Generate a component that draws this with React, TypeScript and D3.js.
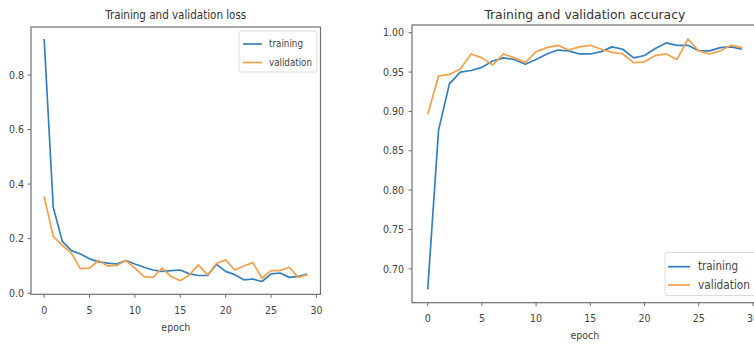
import React from "react";
import * as d3 from "d3";

const epochs = d3.range(0, 30);

const lossTraining = [
  0.932, 0.315, 0.19, 0.156, 0.144, 0.126, 0.115, 0.11, 0.107, 0.12,
  0.107, 0.095, 0.085, 0.08, 0.083, 0.085, 0.071, 0.065, 0.065, 0.106,
  0.08, 0.068, 0.049, 0.052, 0.043, 0.071, 0.074, 0.058, 0.062, 0.07,
];
const lossValidation = [
  0.355, 0.208, 0.175, 0.147, 0.09, 0.092, 0.12, 0.1, 0.102, 0.12,
  0.092, 0.061, 0.058, 0.092, 0.061, 0.046, 0.067, 0.104, 0.067, 0.11,
  0.122, 0.085, 0.1, 0.112, 0.055, 0.083, 0.083, 0.095, 0.058, 0.068,
];
const accTraining = [
  0.674, 0.876, 0.935, 0.95, 0.952, 0.956, 0.964, 0.968, 0.966, 0.96,
  0.966, 0.973, 0.978, 0.977, 0.973, 0.973, 0.976, 0.982, 0.979, 0.968,
  0.971, 0.98, 0.987, 0.984, 0.984, 0.977, 0.977, 0.981, 0.982, 0.979,
];
const accValidation = [
  0.896, 0.945, 0.947, 0.954, 0.973, 0.968, 0.959, 0.973, 0.968, 0.962,
  0.976, 0.981, 0.984, 0.978, 0.982, 0.984, 0.979, 0.975, 0.973, 0.962,
  0.963, 0.971, 0.973, 0.966, 0.992, 0.977, 0.973, 0.977, 0.984, 0.981,
];

const xTicks = [0, 5, 10, 15, 20, 25, 30];
const lossTicks = [0.0, 0.2, 0.4, 0.6, 0.8];
const accTicks = [0.7, 0.75, 0.8, 0.85, 0.9, 0.95, 1.0];
const seriesNames = ["training", "validation"];
const titles = ["Training and validation loss", "Training and validation accuracy"];

const BLUE = "#3480bd";
const ORANGE = "#f3a04c";
const FONT = "'DejaVu Sans Condensed', 'DejaVu Sans', sans-serif";
const SPINE = "#6e6e6e";
const TXT = "#444";

type PanelProps = {
  left: number; right: number; top: number; bottom: number;
  yDomain: [number, number];
  yTicks: number[];
  yFmt: (v: number) => string;
  training: number[]; validation: number[];
  title: string; titleY: number; titleLen: number;
  xLabelY: number; tickLabelY: number; yLabelGap: number;
  legend: { x: number; y: number; w: number; h: number; row1: number; row2: number; lineX1: number; lineX2: number; textX: number; fs: number; len1: number; len2: number };
  clipId: string;
};

function Panel(p: PanelProps) {
  const x = d3.scaleLinear().domain([-1.45, 30.45]).range([p.left, p.right]);
  const y = d3.scaleLinear().domain(p.yDomain).range([p.bottom, p.top]);
  const line = d3.line<number>().x((_, i) => x(epochs[i])).y((d) => y(d));
  const titleCx = (p.left + p.right) / 2;
  const L = p.legend;
  return (
    <g>
      <defs>
        <clipPath id={p.clipId}>
          <rect x={p.left} y={p.top} width={p.right - p.left} height={p.bottom - p.top} />
        </clipPath>
      </defs>
      <g clipPath={`url(#${p.clipId})`}>
        <path d={line(p.training) || ""} fill="none" stroke={BLUE} strokeWidth={1.7} strokeLinejoin="round" />
        <path d={line(p.validation) || ""} fill="none" stroke={ORANGE} strokeWidth={1.7} strokeLinejoin="round" />
      </g>
      <rect x={p.left} y={p.top} width={p.right - p.left} height={p.bottom - p.top} fill="none" stroke={SPINE} strokeWidth={1.2} />
      {xTicks.map((t) => (
        <g key={"x" + t}>
          <line x1={x(t)} x2={x(t)} y1={p.bottom} y2={p.bottom + 3.5} stroke={SPINE} strokeWidth={1} />
          <text x={x(t)} y={p.tickLabelY} textAnchor="middle" fontSize={10.5} fontFamily={FONT} fill={TXT}>{t}</text>
        </g>
      ))}
      {p.yTicks.map((t) => (
        <g key={"y" + t}>
          <line x1={p.left - 3.5} x2={p.left} y1={y(t)} y2={y(t)} stroke={SPINE} strokeWidth={1} />
          <text x={p.left - p.yLabelGap} y={y(t)} dy="0.35em" textAnchor="end" fontSize={10.5} fontFamily={FONT} fill={TXT}>{p.yFmt(t)}</text>
        </g>
      ))}
      <text x={titleCx} y={p.titleY} textAnchor="middle" fontSize={13} fontFamily={FONT} fill="#333" textLength={p.titleLen} lengthAdjust="spacingAndGlyphs">{p.title}</text>
      <text x={(p.left + p.right) / 2} y={p.xLabelY} textAnchor="middle" fontSize={10.5} fontFamily={FONT} fill={TXT}>epoch</text>
      <rect x={L.x} y={L.y} width={L.w} height={L.h} rx={2} fill="#fff" fillOpacity={0.85} stroke="#dcdcdc" strokeWidth={1} />
      <line x1={L.lineX1} x2={L.lineX2} y1={L.row1} y2={L.row1} stroke={BLUE} strokeWidth={1.7} />
      <line x1={L.lineX1} x2={L.lineX2} y1={L.row2} y2={L.row2} stroke={ORANGE} strokeWidth={1.7} />
      <text x={L.textX} y={L.row1} dy="0.32em" fontSize={L.fs} fontFamily={FONT} fill={TXT} textLength={L.len1} lengthAdjust="spacingAndGlyphs">{seriesNames[0]}</text>
      <text x={L.textX} y={L.row2} dy="0.32em" fontSize={L.fs} fontFamily={FONT} fill={TXT} textLength={L.len2} lengthAdjust="spacingAndGlyphs">{seriesNames[1]}</text>
    </g>
  );
}

export default function App() {
  return (
    <svg width={754} height={347} style={{ position: "absolute", left: 0, top: 0, background: "#fff" }}>
      <rect x={0} y={0} width={754} height={347} fill="#fff" />
      <Panel
        left={31} right={320.5} top={27} bottom={294.3}
        yDomain={[-0.004, 0.976]}
        yTicks={lossTicks}
        yFmt={d3.format(".1f")}
        training={lossTraining} validation={lossValidation}
        title={titles[0]} titleY={19} titleLen={141}
        tickLabelY={314} xLabelY={331} yLabelGap={7}
        legend={{ x: 239, y: 31, w: 78, h: 41, row1: 44, row2: 62.5, lineX1: 243, lineX2: 262, textX: 269, fs: 10.5, len1: 34, len2: 43 }}
        clipId="c1"
      />
      <Panel
        left={412} right={757.8} top={25} bottom={302.7}
        yDomain={[0.657, 1.0098]}
        yTicks={accTicks}
        yFmt={d3.format(".2f")}
        training={accTraining} validation={accValidation}
        title={titles[1]} titleY={19} titleLen={201}
        tickLabelY={322} xLabelY={339} yLabelGap={8}
        legend={{ x: 665, y: 252.5, w: 92, h: 43, row1: 266.7, row2: 285, lineX1: 668, lineX2: 690, textX: 698, fs: 11.5, len1: 40, len2: 52 }}
        clipId="c2"
      />
    </svg>
  );
}
